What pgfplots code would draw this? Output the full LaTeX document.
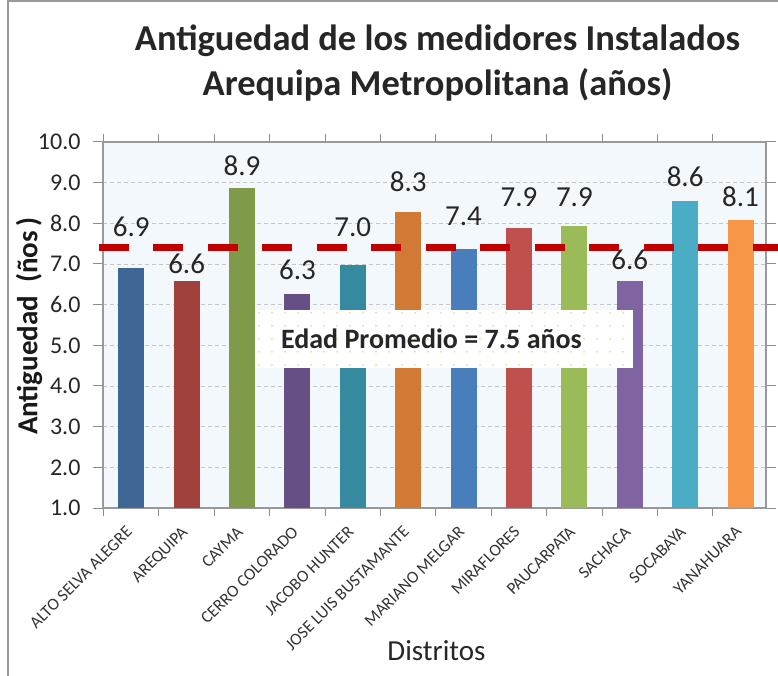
\documentclass[border=0pt]{standalone}
\usepackage{pgfplots}
\pgfplotsset{compat=1.18}
\usepackage{fontspec}
\setmainfont{Carlito}
\usetikzlibrary{patterns.meta}
\definecolor{c1}{RGB}{62,103,150}
\definecolor{c2}{RGB}{160,65,62}
\definecolor{c3}{RGB}{127,154,72}
\definecolor{c4}{RGB}{102,79,133}
\definecolor{c5}{RGB}{54,138,159}
\definecolor{c6}{RGB}{208,122,53}
\definecolor{c7}{RGB}{74,126,187}
\definecolor{c8}{RGB}{192,80,77}
\definecolor{c9}{RGB}{155,187,89}
\definecolor{c10}{RGB}{128,100,162}
\definecolor{c11}{RGB}{75,172,198}
\definecolor{c12}{RGB}{247,150,70}
\definecolor{avg}{RGB}{192,0,0}
\definecolor{bgblue}{RGB}{243,248,252}
\begin{document}
\begin{tikzpicture}
\begin{axis}[name=ax, scale only axis, width=663pt, height=366pt,
  xmin=-0.51, xmax=11.46, ymin=1, ymax=10, clip=false,
  axis background/.style={fill=bgblue},
  axis line style={black!40, line width=1.3pt},
  ytick={1,2,...,10},
  yticklabel style={/pgf/number format/fixed, /pgf/number format/fixed zerofill, /pgf/number format/precision=1, /pgf/number format/assume math mode=true, font=\fontsize{24}{26}\selectfont, xshift=-9pt, text=black!85},
  ymajorgrids, major grid style={dash pattern=on 4pt off 3pt, black!22, line width=0.9pt},
  tick align=outside, major tick length=10pt,
  ytick style={black!45, line width=1pt},
  xtick={0,1,...,11},
  major x tick style={draw=none},
  minor xtick={-0.5,0.5,...,11.5},
  minor x tick style={black!45, line width=1pt},
  minor tick length=8pt,
  xticklabels={ALTO SELVA ALEGRE, AREQUIPA, CAYMA, CERRO COLORADO, JACOBO HUNTER, JOSE LUIS BUSTAMANTE, MARIANO MELGAR, MIRAFLORES, PAUCARPATA, SACHACA, SOCABAYA, YANAHUARA},
  xticklabel style={anchor=north east, font=\fontsize{17}{19}\selectfont, inner sep=0pt, xshift=-6pt, yshift=-7pt, rotate=45, text=black!80},
  nodes near coords={\pgfmathprintnumber[fixed,fixed zerofill,precision=1,assume math mode=true]{\pgfplotspointmeta}},
  every node near coord/.append style={font=\fontsize{29}{32}\selectfont, text=black!85, anchor=center},
  ]
\addplot[ybar, bar width=26pt, bar shift=0pt, fill=c1, draw=none, every node near coord/.append style={yshift=41pt}] coordinates {(0,6.90)};
\addplot[ybar, bar width=26pt, bar shift=0pt, fill=c2, draw=none, every node near coord/.append style={yshift=17.5pt}] coordinates {(1,6.57)};
\addplot[ybar, bar width=26pt, bar shift=0pt, fill=c3, draw=none, every node near coord/.append style={yshift=22pt}] coordinates {(2,8.87)};
\addplot[ybar, bar width=26pt, bar shift=0pt, fill=c4, draw=none, every node near coord/.append style={yshift=23.5pt}] coordinates {(3,6.27)};
\addplot[ybar, bar width=26pt, bar shift=0pt, fill=c5, draw=none, every node near coord/.append style={yshift=38pt}] coordinates {(4,6.97)};
\addplot[ybar, bar width=26pt, bar shift=0pt, fill=c6, draw=none, every node near coord/.append style={yshift=30pt}] coordinates {(5,8.28)};
\addplot[ybar, bar width=26pt, bar shift=0pt, fill=c7, draw=none, every node near coord/.append style={yshift=33pt}] coordinates {(6,7.36)};
\addplot[ybar, bar width=26pt, bar shift=0pt, fill=c8, draw=none, every node near coord/.append style={yshift=31pt}] coordinates {(7,7.88)};
\addplot[ybar, bar width=26pt, bar shift=0pt, fill=c9, draw=none, every node near coord/.append style={yshift=29pt}] coordinates {(8,7.93)};
\addplot[ybar, bar width=26pt, bar shift=0pt, fill=c10, draw=none, every node near coord/.append style={yshift=21.5pt}] coordinates {(9,6.57)};
\addplot[ybar, bar width=26pt, bar shift=0pt, fill=c11, draw=none, every node near coord/.append style={yshift=23.5pt}] coordinates {(10,8.56)};
\addplot[ybar, bar width=26pt, bar shift=0pt, fill=c12, draw=none, every node near coord/.append style={yshift=23.5pt}] coordinates {(11,8.07)};
\draw[avg, line width=7pt, dash pattern=on 30pt off 24.5pt] (axis cs:-0.587,7.40) -- (axis cs:11.67,7.40);
\fill[white] (axis cs:2.23,4.44) rectangle (axis cs:9.06,5.86);
\fill[pattern={Dots[distance=13pt, radius=0.8pt]}, pattern color=olive!45] (axis cs:2.23,4.44) rectangle (axis cs:9.06,5.86);
\node[font=\fontsize{28}{30}\selectfont\bfseries, text=black!85] at (axis cs:5.42,5.15) {Edad Promedio = 7.5 años};
\end{axis}
\node[font=\fontsize{29}{32}\selectfont\bfseries, rotate=90, text=black!90] at ([xshift=-74pt,yshift=-1pt]ax.west) {Antiguedad\ \ (ños\,)};
\node[font=\fontsize{36.5}{45}\selectfont\bfseries, align=center, text=black!85] at ([xshift=3pt,yshift=79pt]ax.north) {Antiguedad de los medidores Instalados\\Arequipa Metropolitana (años)};
\node[font=\fontsize{29}{32}\selectfont, text=black!85] at ([xshift=2pt,yshift=-143pt]ax.south) {Distritos};
\draw[black!40, line width=1.5pt] ([xshift=-95pt,yshift=-168pt]ax.south west) -- ([xshift=-95pt,yshift=141pt]ax.north west) -- ([xshift=12pt,yshift=141pt]ax.north east);
\pgfresetboundingbox
\path ([xshift=-103pt,yshift=-168pt]ax.south west) rectangle ([xshift=12pt,yshift=142pt]ax.north east);
\end{tikzpicture}
\end{document}
